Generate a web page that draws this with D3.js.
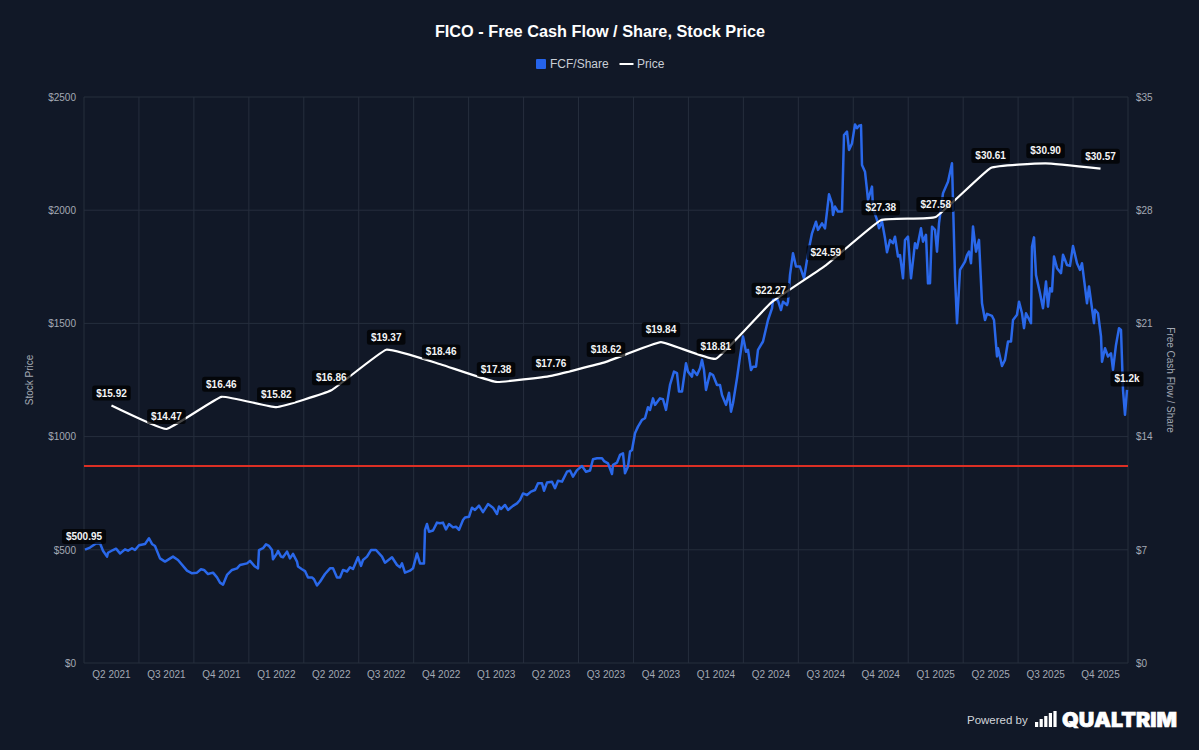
<!DOCTYPE html>
<html><head><meta charset="utf-8">
<script src="https://cdn.jsdelivr.net/npm/d3@7"></script>
<style>
html,body{margin:0;padding:0;background:#111827;}
svg{display:block;font-family:"Liberation Sans",Arial,sans-serif;}
</style></head><body><svg id="c" width="1199" height="750"></svg>
<script>
const titleText = "FICO - Free Cash Flow / Share, Stock Price";
const quarters = ["Q2 2021","Q3 2021","Q4 2021","Q1 2022","Q2 2022","Q3 2022","Q4 2022","Q1 2023","Q2 2023","Q3 2023","Q4 2023","Q1 2024","Q2 2024","Q3 2024","Q4 2024","Q1 2025","Q2 2025","Q3 2025","Q4 2025"];
const fcfPerShare = [15.92,14.47,16.46,15.82,16.86,19.37,18.46,17.38,17.76,18.62,19.84,18.81,22.27,24.59,27.38,27.58,30.61,30.90,30.57];
const leftTicks = [0,500,1000,1500,2000,2500];
const rightTicks = [0,7,14,21,28,35];
const referenceLevel = 870;
const firstPriceLabel = "$500.95";
const lastPriceLabel = "$1.2k";
const priceSessions = [1,6,12,16,19,23,24,29,32,36,41,44,48,51,55,61,65,68,71,76,81,89,94,103,108,113,117,120,124,129,133,136,139,143,148,153,156,163,166,171,174,
175,179,182,185,188,189,193,194,197,199,203,206,209,213,214,218,221,224,228,230,233,236,241,246,249,253,256,259,263,266,269,274,277,279,283,287,292,298,301,308,313,316,318,321,326,329,333,336,339,
340,341,343,345,349,353,356,359,362,365,369,372,375,379,381,385,388,391,395,399,404,409,413,415,417,421,424,429,433,436,439,443,447,451,454,458,460,463,468,471,474,478,483,486,489,493,498,502,506,509,513,518,520,524,528,529,533,536,539,
541,544,546,548,551,554,558,561,564,566,569,571,576,579,582,586,590,593,595,598,602,604,608,609,613,616,618,620,622,626,629,633,636,638,642,645,647,649,653,656,659,662,664,667,669,672,674,679,684,688,689,691,694,697,699,703,704,
706,709,712,716,720,723,725,728,732,734,738,741,743,745,748,749,751,754,758,760,763,765,768,771,773,775,777,778,781,783,784,788,789,793,795,798,801,803,806,809,811,814,816,819,821,824,827,831,833,837,839,842,844,846,848,851,853,855,859,864,
868,871,873,876,881,883,885,887,889,892,895,898,901,903,908,910,913,914,918,921,924,927,929,933,935,938,940,942,947,948,950,952,956,959,962,964,966,968,970,973,977,979,983,986,989,993,996,998,1003,1005,1010,1011,1014,1017,1018,1021,1024,1027,1029,1032,1035,1037,1039,1041,1043];
const priceValues = [501,510,528,529,496,470,487,499,505,484,502,496,507,499,520,526,551,526,517,462,448,470,455,408,396,399,414,411,393,399,378,355,346,389,411,418,433,440,451,426,418,
499,507,524,517,499,458,484,495,470,467,492,462,482,448,426,414,406,378,378,370,343,359,393,418,418,378,378,411,404,423,415,467,429,455,470,499,499,470,443,467,433,423,440,399,408,418,484,440,440,
440,588,614,580,585,620,617,620,590,614,599,602,588,632,643,646,686,676,695,666,702,686,658,691,680,698,676,694,705,720,749,742,757,764,794,794,761,797,801,772,805,801,845,850,823,852,870,845,850,900,904,904,892,882,835,875,885,919,926,
838,868,934,941,1015,1044,1074,1081,1130,1118,1169,1140,1169,1165,1118,1228,1287,1280,1199,1199,1324,1287,1265,1294,1272,1302,1339,1294,1206,1280,1272,1228,1228,1184,1140,1194,1110,1147,1258,1353,1442,1375,1383,1294,1309,1309,1383,1420,1515,1567,1604,1606,1601,1559,1596,1581,1596,
1714,1810,1751,1751,1699,1780,1832,1898,1949,1913,1942,1920,1994,2070,2030,1979,2016,1994,1994,2332,2347,2266,2295,2379,2362,2373,2376,2200,2170,2089,2045,2104,2008,1957,1920,1950,1876,1814,1868,1854,1883,1795,1802,1699,1868,1883,1699,1854,1832,1920,1861,1891,1677,1677,1927,1913,1817,1942,2075,2126,
2207,1707,1501,1736,1773,1802,1817,1766,1928,1817,1869,1589,1515,1542,1533,1515,1354,1390,1312,1339,1420,1420,1515,1538,1596,1545,1479,1545,1501,1839,1880,1714,1633,1567,1685,1574,1655,1641,1795,1744,1722,1803,1758,1754,1842,1766,1736,1766,1589,1663,1501,1560,1545,1442,1331,1390,1354,1368,1295,1405,1479,1471,1206,1096,1206];

const W=1199,H=750,L=84,R=1128,T=97,B=663;
const svg=d3.select("#c");
svg.append("rect").attr("width",W).attr("height",H).attr("fill","#111827");
const GRID="#262e3d",TICK="#a3a9b4";

const xBand=d3.scaleBand().domain(quarters).range([L,R]);
const xSess=d3.scaleLinear().domain([0,1044]).range([L,R]);
const yL=d3.scaleLinear().domain([0,2500]).range([B,T]);
const yR=d3.scaleLinear().domain([0,35]).range([B,T]);

// grid
const grid=svg.append("g").attr("stroke",GRID).attr("stroke-width",1);
leftTicks.forEach(v=>grid.append("line").attr("x1",L).attr("x2",R).attr("y1",yL(v)).attr("y2",yL(v)));
[...quarters.map(q=>xBand(q)),R].forEach(x=>grid.append("line").attr("x1",x).attr("x2",x).attr("y1",T).attr("y2",B));

// axes
function styleAxis(g){g.select(".domain").remove();g.selectAll("line").remove();g.selectAll("text").attr("fill",TICK).attr("font-size",10).attr("font-family",'"Liberation Sans",Arial,sans-serif');}
svg.append("g").attr("transform",`translate(${L},0)`).call(d3.axisLeft(yL).tickValues(leftTicks).tickSize(0).tickPadding(8).tickFormat(d=>"$"+d)).call(styleAxis);
svg.append("g").attr("transform",`translate(${R},0)`).call(d3.axisRight(yR).tickValues(rightTicks).tickSize(0).tickPadding(8).tickFormat(d=>"$"+d)).call(styleAxis);
svg.append("g").attr("transform",`translate(0,${B})`).call(d3.axisBottom(xBand).tickSize(0).tickPadding(8)).call(styleAxis);

svg.append("text").attr("transform",`translate(33,380) rotate(-90)`).attr("text-anchor","middle").attr("fill",TICK).attr("font-size",10).text("Stock Price");
svg.append("text").attr("transform",`translate(1167,380) rotate(90)`).attr("text-anchor","middle").attr("fill",TICK).attr("font-size",10).text("Free Cash Flow / Share");

// title + legend
svg.append("text").attr("x",600).attr("y",36.5).attr("text-anchor","middle").attr("fill","#fff").attr("font-size",16.3).attr("font-weight",700).text(titleText);
svg.append("rect").attr("x",536).attr("y",59).attr("width",10).attr("height",10).attr("rx",1).attr("fill","#2563eb");
svg.append("text").attr("x",550).attr("y",68).attr("fill","#c9ced6").attr("font-size",12).text("FCF/Share");
svg.append("line").attr("x1",619.5).attr("x2",633.5).attr("y1",64).attr("y2",64).attr("stroke","#fff").attr("stroke-width",2);
svg.append("text").attr("x",637).attr("y",68).attr("fill","#c9ced6").attr("font-size",12).text("Price");

// reference line
svg.append("line").attr("x1",L).attr("x2",R).attr("y1",yL(referenceLevel)).attr("y2",yL(referenceLevel)).attr("stroke","#dc2f24").attr("stroke-width",2);

// price line
const pricePts=priceSessions.map((s,i)=>[s,priceValues[i]]);
svg.append("path").attr("d",d3.line().x(d=>xSess(d[0])).y(d=>yL(d[1])).curve(d3.curveLinear)(pricePts))
  .attr("fill","none").attr("stroke","#2a68ea").attr("stroke-width",2.5).attr("stroke-linejoin","round");

// fcf line
const xc=q=>xBand(q)+xBand.bandwidth()/2;
svg.append("path").attr("d",d3.line().x((d,i)=>xc(quarters[i])).y(d=>yR(d)).curve(d3.curveCardinal.tension(0.7))(fcfPerShare))
  .attr("fill","none").attr("stroke","#fff").attr("stroke-width",2.2);

// data labels
function label(x,y,t){
  const g=svg.append("g");
  const txt=g.append("text").attr("x",x).attr("y",y+3.5).attr("text-anchor","middle").attr("fill","#f3f4f6").attr("font-size",10).attr("font-weight",700).text(t);
  const w=txt.node().getComputedTextLength();
  g.insert("rect","text").attr("x",x-w/2-4).attr("y",y-7.5).attr("width",w+8).attr("height",15).attr("rx",2.5).attr("fill","#000").attr("fill-opacity",0.72);
}
fcfPerShare.forEach((v,i)=>label(xc(quarters[i]),yR(v)-12.5,"$"+v.toFixed(2)));
label(xSess(0),yL(priceValues[0])-13,firstPriceLabel);
label(xSess(priceSessions[priceSessions.length-1]),yL(priceValues[priceValues.length-1])-11,lastPriceLabel);

// branding
svg.append("text").attr("x",967).attr("y",723.5).attr("fill","#d1d5db").attr("font-size",11.5).text("Powered by");
const logoBars=[5,8,11,14,16];
svg.append("g").selectAll("rect").data(logoBars).join("rect")
  .attr("x",(d,i)=>1035+i*4.6).attr("y",d=>727-d).attr("width",3.2).attr("height",d=>d).attr("fill","#fff");
svg.append("text").attr("x",1062).attr("y",727).attr("fill","#fff").attr("stroke","#fff").attr("stroke-width",0.6).attr("font-family","Inter,'Liberation Sans',sans-serif").attr("font-size",20).attr("font-weight",900).attr("textLength",115).attr("lengthAdjust","spacingAndGlyphs").text("QUALTRIM");
</script></body></html>
